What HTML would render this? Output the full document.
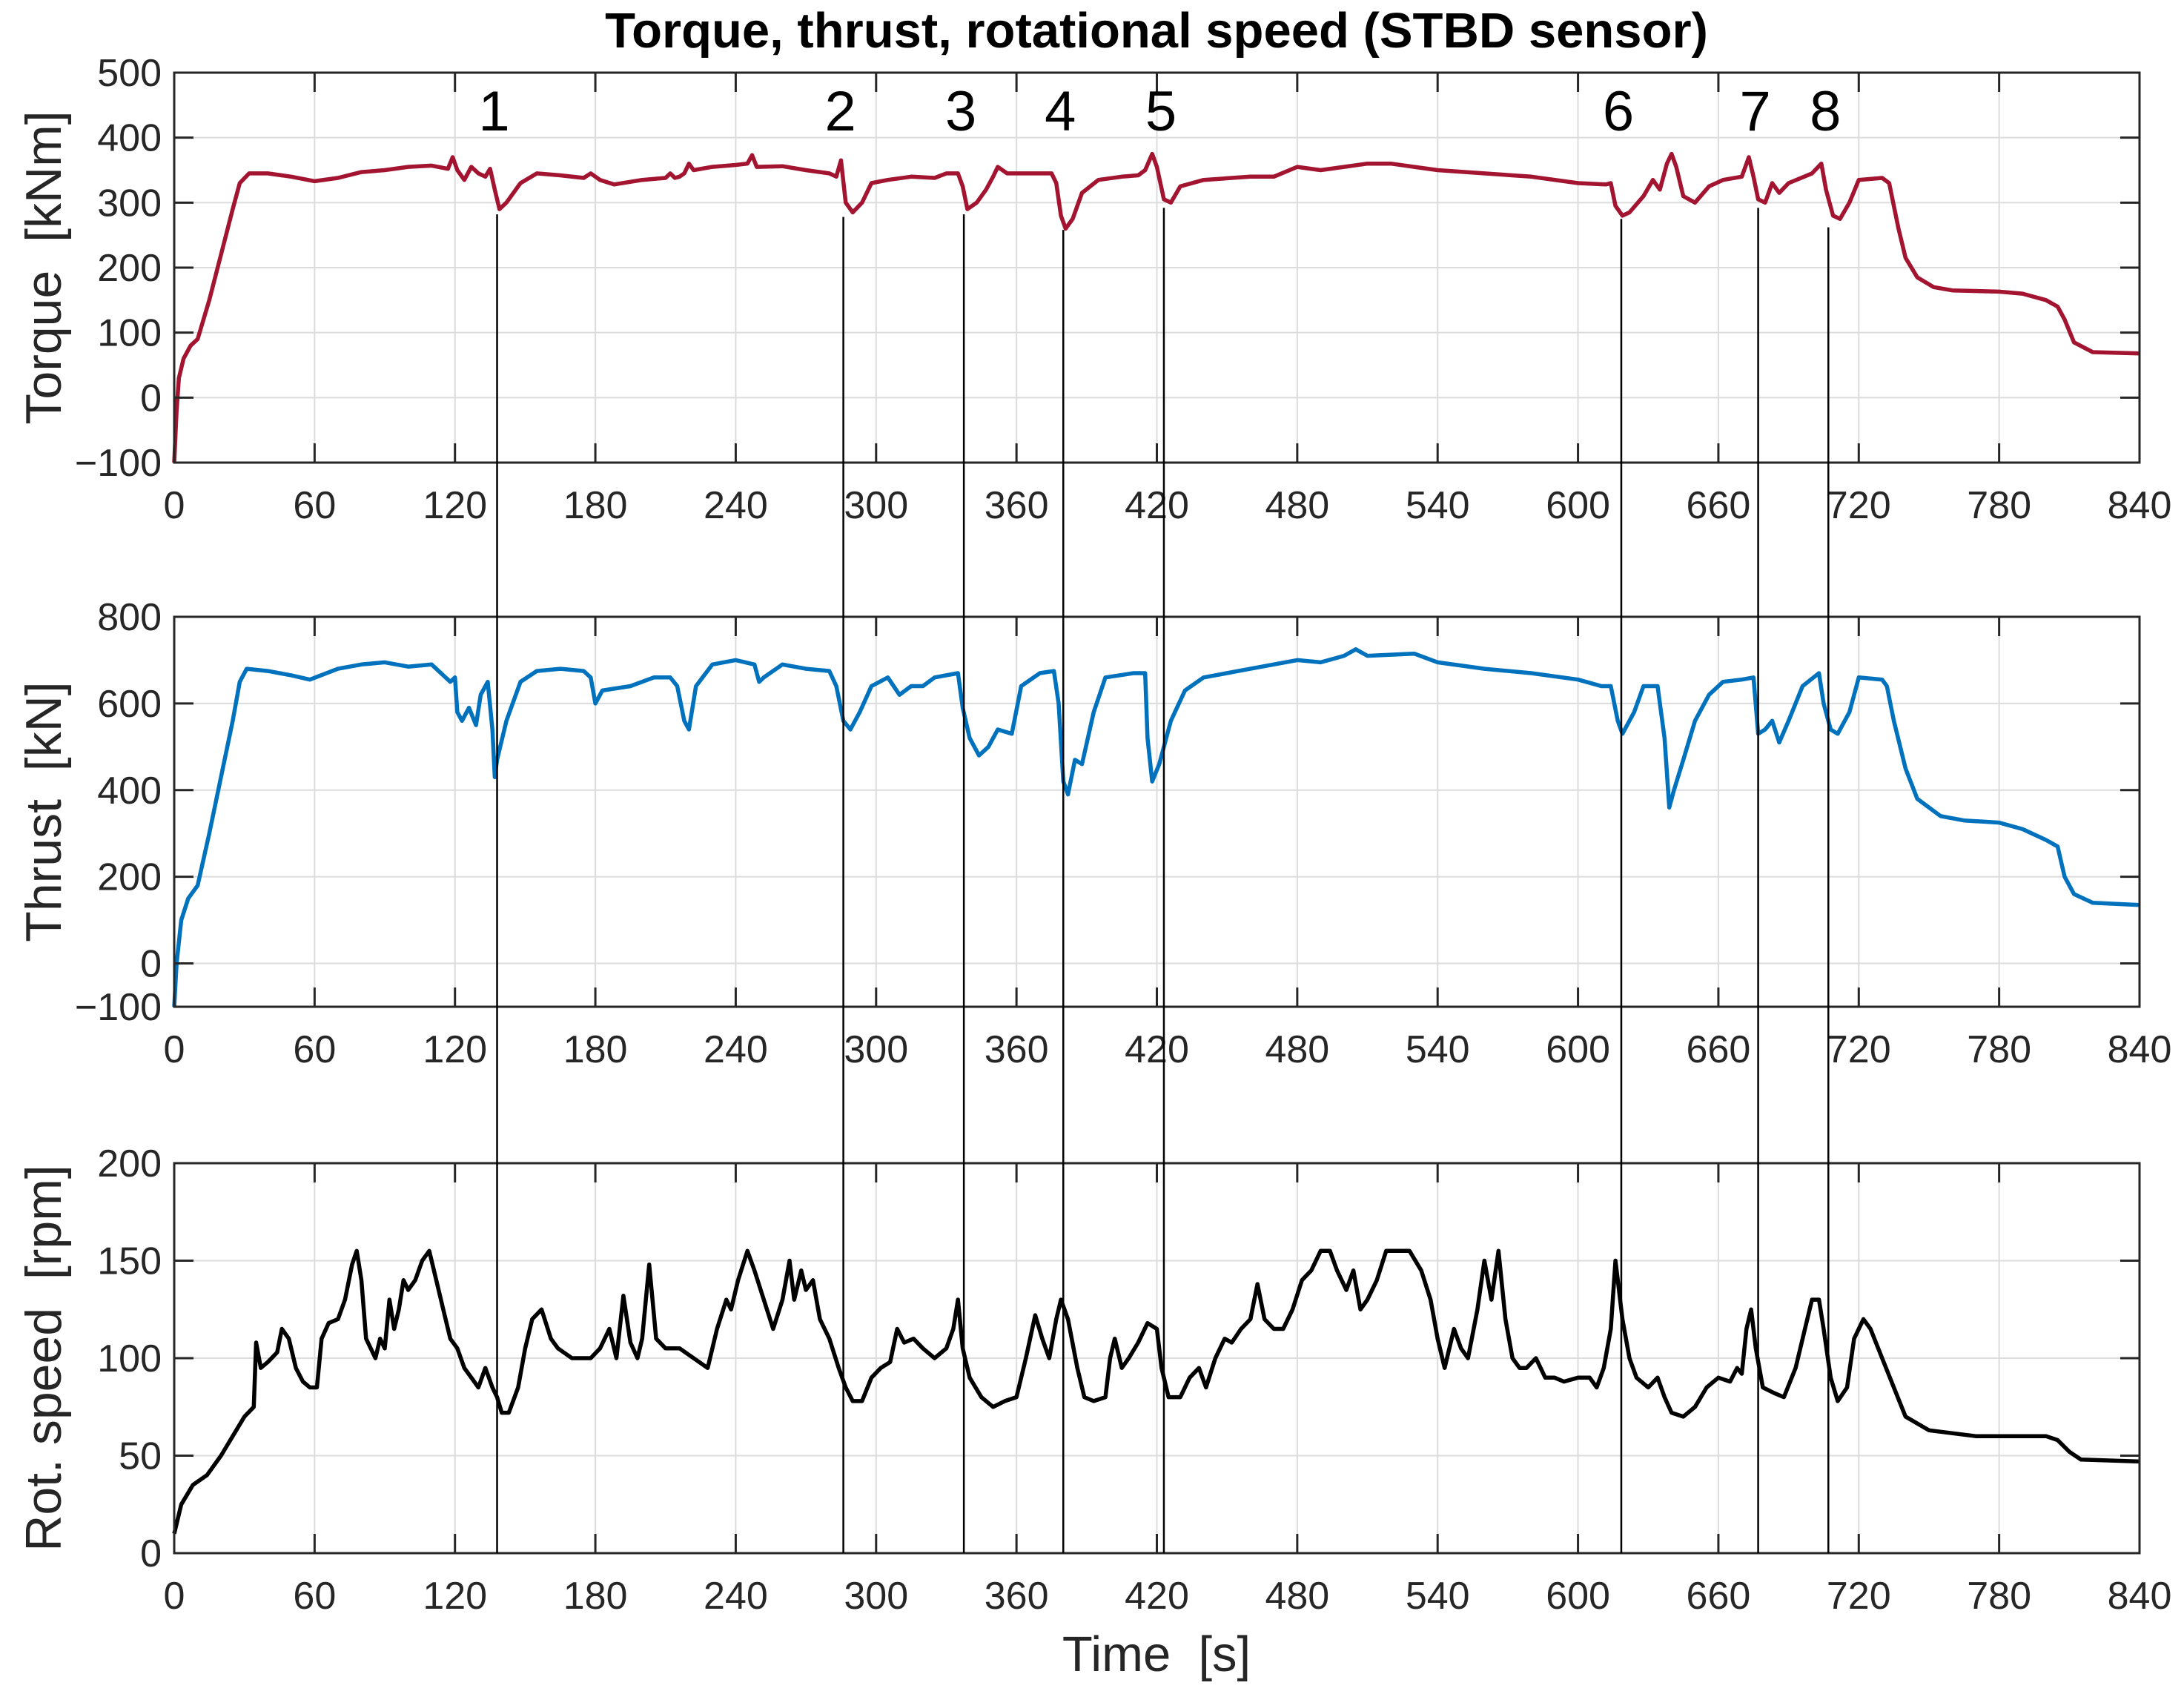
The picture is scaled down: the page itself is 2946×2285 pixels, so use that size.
<!DOCTYPE html>
<html><head><meta charset="utf-8">
<style>
html,body{margin:0;padding:0;background:#fff;}
svg{display:block;font-family:"Liberation Sans",Arial,sans-serif;}
</style></head>
<body>
<svg id="chart" width="2946" height="2285" viewBox="0 0 2946 2285" xmlns="http://www.w3.org/2000/svg">
<text x="1560" y="64" text-anchor="middle" font-size="67" font-weight="bold" fill="#000">Torque, thrust, rotational speed (STBD sensor)</text>
</svg>
<script>
// ---- data ----
const xTicks = [0,60,120,180,240,300,360,420,480,540,600,660,720,780,840];
const torqueTicks = [-100,0,100,200,300,400,500];
const thrustTicks = [-100,0,200,400,600,800];
const rpmTicks = [0,50,100,150,200];

const torqueT = [0,1,2,4,7,10,15,20,25,28,32,40,50,60,70,80,90,100,110,117,119,121,124,127,130,133,135,137,139,142,148,155,165,175,178,182,188,200,210,212,214,216,218,220,222,230,240,245,247,249,260,270,280,283,285,287,290,294,298,305,315,325,330,335,337,339,343,347,350,352,356,362,370,375,377,379,381,384,388,395,405,412,415,418,420,423,426,430,440,460,470,480,490,500,510,520,530,540,560,580,600,612,614,616,619,622,628,632,635,638,640,642,645,650,656,662,670,673,675,677,680,683,686,690,700,704,706,709,712,716,720,730,733,737,740,745,752,760,780,790,800,805,808,812,820,840];
const torqueV = [-100,-20,30,60,80,90,150,220,290,330,345,345,340,333,338,347,350,355,357,352,370,350,335,355,345,340,352,320,290,300,330,345,342,338,345,335,328,335,338,345,338,340,345,360,350,355,358,360,373,355,356,350,345,340,365,300,285,300,330,335,340,338,345,345,325,290,300,320,340,355,345,345,345,345,330,280,260,275,315,335,340,342,350,375,355,305,300,325,335,340,340,355,350,355,360,360,355,350,345,340,330,328,330,295,280,285,310,335,320,360,375,355,310,300,325,335,340,370,340,305,300,330,315,330,345,360,320,280,275,300,335,338,330,260,215,185,170,165,163,160,150,140,120,85,70,68];

const thrustT = [0,1,3,6,10,15,20,25,28,31,40,50,58,70,80,90,100,110,115,118,120,121,123,126,129,131,134,136,137,138,142,148,155,165,175,178,180,183,195,205,212,215,218,220,223,230,240,248,250,252,260,270,280,283,286,289,293,298,305,310,315,320,325,335,337,340,344,348,352,358,362,370,376,378,380,382,385,388,393,398,410,415,416,418,421,426,432,440,460,480,490,500,505,510,530,540,560,580,600,610,614,617,619,624,628,634,637,639,641,645,650,656,662,670,675,677,680,683,686,690,696,703,705,708,711,716,720,730,732,735,740,745,755,765,780,790,800,805,808,812,820,840];
const thrustV = [-100,0,100,150,180,300,430,560,650,680,675,665,655,680,690,695,685,690,665,650,660,580,560,590,550,620,650,540,430,470,560,650,675,680,675,660,600,630,640,660,660,640,560,540,640,690,700,690,650,660,690,680,675,640,560,540,580,640,660,620,640,640,660,670,590,520,480,500,540,530,640,670,675,600,420,390,470,460,580,660,670,670,520,420,460,560,630,660,680,700,695,710,725,710,715,695,680,670,655,640,640,560,530,580,640,640,520,360,400,470,560,620,650,655,660,530,540,560,510,560,640,670,600,540,530,580,660,655,640,560,450,380,340,330,325,310,285,270,200,160,140,135];

const rpmT = [0,3,8,14,20,30,34,35,37,40,44,46,49,52,55,58,61,63,66,70,73,76,78,80,82,84,86,88,90,92,94,96,98,100,103,106,109,112,115,118,121,124,127,130,133,136,138,140,143,147,150,153,157,161,164,170,178,182,186,189,192,195,198,200,203,206,210,216,222,228,232,236,238,241,245,248,252,256,260,263,265,268,270,273,276,280,284,287,290,294,298,302,306,309,312,316,320,325,330,333,335,337,340,345,350,355,360,364,368,371,374,377,379,382,386,389,393,398,400,402,405,408,412,416,420,422,425,430,434,438,441,445,449,452,456,460,463,466,470,474,478,482,486,490,494,497,501,504,507,510,514,518,522,528,533,537,540,543,547,550,553,557,560,563,566,569,572,575,578,582,586,590,594,600,605,608,611,614,616,619,622,625,630,634,637,640,645,650,655,660,665,668,670,672,674,676,679,684,688,693,697,700,703,705,708,711,715,718,722,725,730,735,740,750,770,800,805,810,815,840];
const rpmV = [10,25,35,40,50,70,75,108,95,98,103,115,110,95,88,85,85,110,118,120,130,148,155,140,110,105,100,110,105,130,115,125,140,135,140,150,155,140,125,110,105,95,90,85,95,85,80,72,72,85,105,120,125,110,105,100,100,105,115,100,132,108,100,110,148,110,105,105,100,95,115,130,125,140,155,145,130,115,130,150,130,145,135,140,120,110,95,85,78,78,90,95,98,115,108,110,105,100,105,115,130,105,90,80,75,78,80,100,122,110,100,120,130,120,95,80,78,80,100,110,95,100,108,118,115,95,80,80,90,95,85,100,110,108,115,120,138,120,115,115,125,140,145,155,155,145,135,145,125,130,140,155,155,155,145,130,110,95,115,105,100,125,150,130,155,120,100,95,95,100,90,90,88,90,90,85,95,115,150,120,100,90,85,90,80,72,70,75,85,90,88,95,92,115,125,105,85,82,80,95,115,130,130,115,90,78,85,110,120,115,100,85,70,63,60,60,58,52,48,47];

const eventLabels = ["1","2","3","4","5","6","7","8"];
const eventTimes = [138,286,337.5,380,423,618.5,677,707];
const eventStart = [282,278,282,258,292,275,292,262];

// ---- layout ----
const NS = "http://www.w3.org/2000/svg";
const svg = document.getElementById('chart');
const X0 = 235, X1 = 2886;
const panels = [
  {name:'torque', top:98, bot:624, min:-100, max:500, ticks:torqueTicks, t:torqueT, v:torqueV, color:'#a2142f', label:'Torque  [kNm]'},
  {name:'thrust', top:832, bot:1358, min:-100, max:800, ticks:thrustTicks, t:thrustT, v:thrustV, color:'#0072bd', label:'Thrust  [kN]'},
  {name:'rpm', top:1569, bot:2095, min:0, max:200, ticks:rpmTicks, t:rpmT, v:rpmV, color:'#000000', label:'Rot. speed  [rpm]'}
];
function xs(t){ return X0 + (t/840)*(X1-X0); }
function ysFn(p){ return v => p.bot - (v-p.min)/(p.max-p.min)*(p.bot-p.top); }
function mk(tag, attrs, parent){
  const e = document.createElementNS(NS, tag);
  for (const k in attrs) e.setAttribute(k, attrs[k]);
  (parent||svg).appendChild(e);
  return e;
}

panels.forEach(p => {
  const ys = ysFn(p);
  p.ys = ys;
  const g = mk('g', {});
  
  
  xTicks.forEach(t => {
    const l = mk('line', {x1:xs(t), x2:xs(t), y1:p.top, y2:p.bot, stroke:'#dcdcdc', 'stroke-width':2}, g);
    
    
  });
  p.ticks.forEach(v => {
    const l = mk('line', {x1:X0, x2:X1, y1:ys(v), y2:ys(v), stroke:'#dcdcdc', 'stroke-width':2}, g);
    
    
  });
  let d = '';
  p.t.forEach((t,i) => { d += (i?'L':'M') + xs(t).toFixed(1) + ' ' + ys(p.v[i]).toFixed(1); });
  const path = mk('path', {d:d, fill:'none', stroke:p.color, 'stroke-width':5.5, 'stroke-linejoin':'round'}, g);
  
  
  const box = mk('rect', {x:X0, y:p.top, width:X1-X0, height:p.bot-p.top, fill:'none', stroke:'#262626', 'stroke-width':3}, g);
  
  
  xTicks.forEach(t => {
    mk('line', {x1:xs(t), x2:xs(t), y1:p.bot, y2:p.bot-26, stroke:'#262626', 'stroke-width':3}, g);
    mk('line', {x1:xs(t), x2:xs(t), y1:p.top, y2:p.top+26, stroke:'#262626', 'stroke-width':3}, g);
    const tx = mk('text', {x:xs(t), y:p.bot+75, 'text-anchor':'middle', 'font-size':52, fill:'#262626'}, g);
    tx.textContent = t;
    
    
  });
  p.ticks.forEach(v => {
    mk('line', {x1:X0, x2:X0+26, y1:ys(v), y2:ys(v), stroke:'#262626', 'stroke-width':3}, g);
    mk('line', {x1:X1, x2:X1-26, y1:ys(v), y2:ys(v), stroke:'#262626', 'stroke-width':3}, g);
    const tx = mk('text', {x:218, y:ys(v)+18, 'text-anchor':'end', 'font-size':52, fill:'#262626'}, g);
    tx.textContent = v < 0 ? '\u2212' + (-v) : v;
    
    
  });
  const cy = (p.top+p.bot)/2;
  const yl = mk('text', {x:0, y:0, transform:'translate(82,'+cy+') rotate(-90)', 'text-anchor':'middle', 'font-size':68, fill:'#262626'}, g);
  yl.textContent = p.label;
  
  
  yl.style.whiteSpace = 'pre';
});

const tq = panels[0];
eventTimes.forEach((t,i) => {
  const x = xs(t);
  const l = mk('line', {x1:x, x2:x, y1:tq.ys(eventStart[i]), y2:panels[2].bot, stroke:'#000', 'stroke-width':2.5});
  
  
  const tx = mk('text', {x:x-4, y:176, 'text-anchor':'middle', 'font-size':76, fill:'#000'});
  tx.textContent = eventLabels[i];
  
  
});

const xl = mk('text', {x:1560, y:2254, 'text-anchor':'middle', 'font-size':67, fill:'#262626'});
xl.textContent = 'Time  [s]';
xl.style.whiteSpace = 'pre';


</script>
</body></html>
